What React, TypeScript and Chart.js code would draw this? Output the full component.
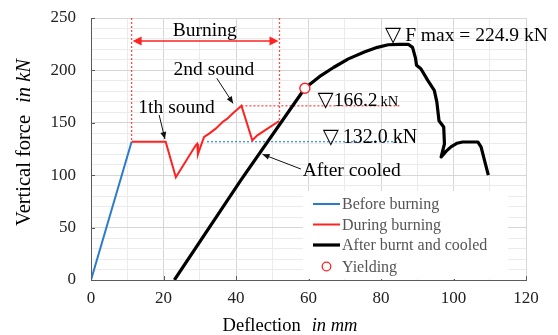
import React, { useEffect, useRef } from 'react';
import { Chart, registerables } from 'chart.js';

Chart.register(...registerables);

// ---------- data ----------
const xTickLabels = [0, 20, 40, 60, 80, 100, 120];
const yTickLabels = [0, 50, 100, 150, 200, 250];

const beforeX = [0, 11.2];
const beforeY = [0, 132];

const duringX = [11.2, 20.6, 23.4, 28.9, 29.3, 29.5, 30.2, 31.2, 32.6, 34.4, 36.3, 37.6, 39.0, 41.5, 44.5, 45.9, 48.7, 51.9];
const duringY = [132, 132, 98, 128.5, 130, 120, 127, 136.5, 139.7, 144.4, 150.8, 154, 158.7, 166.2, 133.3, 138, 144.4, 151.7];

const afterX = [23, 41.3, 59, 63, 67, 71, 75.4, 79, 82, 85, 87.5, 88.7, 89.5, 89.8, 91, 92.9, 94.7, 95.4, 96, 97.3, 97.5, 96.6, 98, 99.3, 101, 102.5, 106.7, 107.6, 109.6];
const afterY = [0, 95, 183, 194, 203, 211, 217.5, 222, 224.5, 224.9, 224.9, 222, 212, 205, 201.6, 190.5, 181, 170, 152, 146, 130, 117.4, 123, 127, 130.5, 131.7, 131.7, 127, 100];

const yieldX = [59];
const yieldY = [183];

const seriesNames = ['Before burning', 'During burning', 'After burnt and cooled', 'Yielding'];

const burnStart = 11.2;
const burnEnd = 52;
const fMax = 224.9;
const secondSound = 166.2;
const plateau = 132.0;

// ---------- styles ----------
const SERIF = '"Liberation Serif", "Times New Roman", serif';
const SYM = '"DejaVu Sans", sans-serif';
const BLUE = '#2b7bcb';
const RED = '#ff2222';
const BLACK = '#000000';

const pts = (xs: number[], ys: number[]) => xs.map((x, i) => ({ x, y: ys[i] }));

function arrowHead(ctx: CanvasRenderingContext2D, x1: number, y1: number, x2: number, y2: number, len: number, half: number) {
  const a = Math.atan2(y2 - y1, x2 - x1);
  ctx.beginPath();
  ctx.moveTo(x2, y2);
  ctx.lineTo(x2 - len * Math.cos(a) + half * Math.sin(a), y2 - len * Math.sin(a) - half * Math.cos(a));
  ctx.lineTo(x2 - len * Math.cos(a) - half * Math.sin(a), y2 - len * Math.sin(a) + half * Math.cos(a));
  ctx.closePath();
  ctx.fill();
}

type Run = { t: string; f: string; s: number; gap?: number };

function drawRuns(ctx: CanvasRenderingContext2D, runs: Run[], x: number, yCenter: number, align: 'left' | 'center') {
  let total = 0;
  const widths = runs.map((r) => {
    ctx.font = r.f;
    const w = ctx.measureText(r.t).width + (r.gap || 0);
    total += w;
    return w;
  });
  let cx = align === 'center' ? x - total / 2 : x;
  const main = Math.max(...runs.map((r) => r.s));
  const base = yCenter + main * 0.34;
  ctx.textAlign = 'left';
  ctx.textBaseline = 'alphabetic';
  runs.forEach((r, i) => {
    ctx.font = r.f;
    ctx.fillText(r.t, cx, base);
    cx += widths[i];
  });
}

const annotPlugin = {
  id: 'annot',
  beforeDatasetsDraw(chart: any) {
    const ctx: CanvasRenderingContext2D = chart.ctx;
    const xs = chart.scales.x;
    const ys = chart.scales.y;
    const X = (v: number) => xs.getPixelForValue(v);
    const Y = (v: number) => ys.getPixelForValue(v);
    const seg = (a: number, b: number, c: number, d: number) => {
      ctx.beginPath();
      ctx.moveTo(a, b);
      ctx.lineTo(c, d);
      ctx.stroke();
    };
    ctx.save();
    ctx.lineWidth = 1.3;
    ctx.setLineDash([2, 2]);
    ctx.strokeStyle = '#ff4a4a';
    seg(X(burnStart), Y(250), X(burnStart), Y(132));
    seg(X(burnEnd), Y(250), X(burnEnd), Y(151.7));
    seg(X(41.5), Y(secondSound), X(85.3), Y(secondSound));
    ctx.strokeStyle = '#3f93e3';
    seg(X(32), Y(plateau), X(85), Y(plateau));
    ctx.restore();
  },
  afterDraw(chart: any) {
    const ctx: CanvasRenderingContext2D = chart.ctx;
    const xs = chart.scales.x;
    const ys = chart.scales.y;
    const X = (v: number) => xs.getPixelForValue(v);
    const Y = (v: number) => ys.getPixelForValue(v);
    const area = chart.chartArea;
    ctx.save();

    // inner tick marks
    ctx.strokeStyle = '#5a5a5a';
    ctx.lineWidth = 1;
    xTickLabels.forEach((v) => {
      const px = Math.round(X(v)) + 0.5;
      ctx.beginPath();
      ctx.moveTo(px, area.bottom);
      ctx.lineTo(px, area.bottom - 4);
      ctx.stroke();
    });
    yTickLabels.forEach((v) => {
      const py = Math.round(Y(v)) + 0.5;
      ctx.beginPath();
      ctx.moveTo(area.left, py);
      ctx.lineTo(area.left + 4, py);
      ctx.stroke();
    });

    // Burning double arrow
    const ay = Y(228);
    const ax1 = X(burnStart) + 1;
    const ax2 = X(burnEnd) - 1;
    ctx.strokeStyle = RED;
    ctx.fillStyle = RED;
    ctx.lineWidth = 1.6;
    ctx.beginPath();
    ctx.moveTo(ax1 + 6, ay);
    ctx.lineTo(ax2 - 6, ay);
    ctx.stroke();
    arrowHead(ctx, ax2, ay, ax1, ay, 9, 4.5);
    arrowHead(ctx, ax1, ay, ax2, ay, 9, 4.5);

    // black pointer arrows
    ctx.strokeStyle = '#111';
    ctx.fillStyle = '#111';
    ctx.lineWidth = 1;
    const pointer = (x1: number, y1: number, x2: number, y2: number) => {
      const p1x = X(x1), p1y = Y(y1), p2x = X(x2), p2y = Y(y2);
      ctx.beginPath();
      ctx.moveTo(p1x, p1y);
      ctx.lineTo(p2x, p2y);
      ctx.stroke();
      arrowHead(ctx, p1x, p1y, p2x, p2y, 7, 3);
    };
    pointer(34.7, 192.5, 39.2, 168.5);
    pointer(18.8, 157.4, 20.4, 134.5);
    pointer(57.9, 105.9, 47.3, 120);

    // texts
    ctx.fillStyle = '#000';
    const f = (s: number, it = false) => `${it ? 'italic ' : ''}${s}px ${SERIF}`;
    const tri = (s: number) => `${s}px ${SYM}`;
    drawRuns(ctx, [{ t: 'Burning', f: f(19.5), s: 19.5 }], X(31.4), Y(239.2), 'center');
    drawRuns(ctx, [{ t: '2nd sound', f: f(19.5), s: 19.5 }], X(33.9), Y(202), 'center');
    drawRuns(ctx, [{ t: '1th sound', f: f(19.5), s: 19.5 }], X(23.6), Y(165.4), 'center');
    drawRuns(ctx, [{ t: 'After cooled', f: f(19.5), s: 19.5 }], X(58.4), Y(105.6), 'left');
    drawRuns(
      ctx,
      [
        { t: '\u25BD', f: tri(21), s: 19.5, gap: 4 },
        { t: `F max = ${fMax.toFixed(1)} kN`, f: f(19.5), s: 19.5 },
      ],
      X(81.1), Y(234.7), 'left'
    );
    drawRuns(
      ctx,
      [
        { t: '\u25BD', f: tri(21), s: 19.5, gap: 0 },
        { t: secondSound.toFixed(1), f: f(19.5), s: 19.5, gap: 3 },
        { t: 'kN', f: f(14.5), s: 14.5 },
      ],
      X(62.5), Y(172.7), 'left'
    );
    drawRuns(
      ctx,
      [
        { t: '\u25BD', f: tri(21), s: 19.5, gap: 4 },
        { t: `${plateau.toFixed(1)} kN`, f: f(20), s: 20 },
      ],
      X(63.9), Y(137.4), 'left'
    );

    // axis titles
    ctx.fillStyle = '#000';
    drawRuns(
      ctx,
      [
        { t: 'Deflection', f: f(18.5), s: 18.5, gap: 11 },
        { t: 'in mm', f: f(18.5, true), s: 18.5 },
      ],
      290, 325, 'center'
    );
    ctx.save();
    ctx.translate(23, 142.5);
    ctx.rotate(-Math.PI / 2);
    drawRuns(
      ctx,
      [
        { t: 'Vertical force', f: f(20.5), s: 20.5, gap: 12 },
        { t: 'in kN', f: f(20.5, true), s: 20.5 },
      ],
      0, 0, 'center'
    );
    ctx.restore();

    // legend
    const lx = 303, ly = 191, lw = 205, lh = 88;
    ctx.fillStyle = '#ffffff';
    ctx.fillRect(lx, ly, lw, lh);
    const rows = [204, 224.5, 245, 266.5];
    const colors = [BLUE, RED, BLACK];
    const widths = [2, 2, 3.2];
    ctx.setLineDash([]);
    for (let i = 0; i < 3; i++) {
      ctx.strokeStyle = colors[i];
      ctx.lineWidth = widths[i];
      ctx.beginPath();
      ctx.moveTo(313, rows[i]);
      ctx.lineTo(340, rows[i]);
      ctx.stroke();
    }
    ctx.strokeStyle = RED;
    ctx.lineWidth = 1.3;
    ctx.beginPath();
    ctx.arc(326.5, rows[3], 4.3, 0, Math.PI * 2);
    ctx.stroke();
    ctx.fillStyle = '#555555';
    seriesNames.forEach((n, i) => {
      drawRuns(ctx, [{ t: n, f: f(16), s: 16 }], 342, rows[i], 'left');
    });

    ctx.restore();
  },
};

export default function App() {
  const ref = useRef<HTMLCanvasElement | null>(null);

  useEffect(() => {
    if (!ref.current) return;
    const chart = new Chart(ref.current, {
      type: 'scatter',
      data: {
        datasets: [
          {
            label: seriesNames[3],
            data: pts(yieldX, yieldY),
            showLine: false,
            pointRadius: 5,
            pointBorderWidth: 1.4,
            pointBorderColor: RED,
            pointBackgroundColor: '#ffffff',
            order: 0,
          },
          {
            label: seriesNames[2],
            data: pts(afterX, afterY),
            showLine: true,
            borderColor: BLACK,
            borderWidth: 3.2,
            pointRadius: 0,
            tension: 0,
            borderJoinStyle: 'round',
            order: 1,
          },
          {
            label: seriesNames[1],
            data: pts(duringX, duringY),
            showLine: true,
            borderColor: RED,
            borderWidth: 2,
            pointRadius: 0,
            tension: 0,
            order: 2,
          },
          {
            label: seriesNames[0],
            data: pts(beforeX, beforeY),
            showLine: true,
            borderColor: BLUE,
            borderWidth: 2,
            pointRadius: 0,
            tension: 0,
            order: 3,
          },
        ],
      } as any,
      options: {
        responsive: false,
        animation: false,
        layout: { padding: { left: 0, right: 32, top: 18, bottom: 0 } },
        plugins: { legend: { display: false }, tooltip: { enabled: false } },
        scales: {
          x: {
            type: 'linear',
            min: 0,
            max: 120,
            afterFit: (s: any) => {
              s.height = 55;
            },
            ticks: {
              stepSize: 10,
              autoSkip: false,
              maxRotation: 0,
              padding: 8,
              color: '#222',
              font: { family: SERIF, size: 17 },
              callback: (v: any) => (Number(v) % 20 === 0 ? String(v) : ''),
            },
            grid: {
              drawTicks: false,
              color: (c: any) => (c.tick && c.tick.value % 20 === 0 ? '#d6d6d6' : '#ebebeb'),
              lineWidth: 1,
            },
            border: { display: true, color: '#5a5a5a', width: 1 },
          },
          y: {
            type: 'linear',
            min: 0,
            max: 250,
            afterFit: (s: any) => {
              s.width = 91;
              s.paddingTop = 8;
              s.paddingBottom = 8;
            },
            ticks: {
              stepSize: 10,
              autoSkip: false,
              padding: 15,
              color: '#222',
              font: { family: SERIF, size: 17 },
              callback: (v: any) => (Number(v) % 50 === 0 ? String(v) : ''),
            },
            grid: {
              drawTicks: false,
              color: (c: any) => (c.tick && c.tick.value % 50 === 0 ? '#d6d6d6' : '#ebebeb'),
              lineWidth: 1,
            },
            border: { display: true, color: '#5a5a5a', width: 1 },
          },
        },
      } as any,
      plugins: [annotPlugin as any],
    });
    return () => chart.destroy();
  }, []);

  return (
    <div style={{ position: 'fixed', left: 0, top: 0, width: 558, height: 335, background: '#fff' }}>
      <canvas ref={ref} width={558} height={335} style={{ display: 'block', width: 558, height: 335 }} />
    </div>
  );
}
